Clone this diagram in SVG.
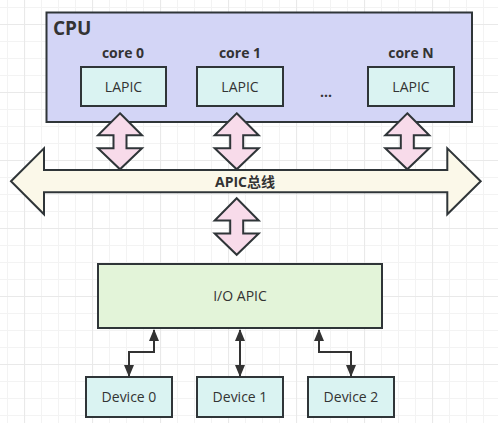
<svg xmlns="http://www.w3.org/2000/svg" width="498" height="423" viewBox="0 0 498 423">
<defs>
<pattern id="grid" patternUnits="userSpaceOnUse" x="24" y="24" width="68" height="68">
<path d="M17.5 0V68M34.5 0V68M51.5 0V68M0 17.5H68M0 34.5H68M0 51.5H68" stroke="#f3f3f3" stroke-width="1" fill="none"/>
<path d="M0.5 0V68M0 0.5H68" stroke="#e9e9e9" stroke-width="1.2" fill="none"/>
</pattern>
<marker id="ah" viewBox="0 0 12 10" refX="11" refY="5" markerWidth="12" markerHeight="10" markerUnits="userSpaceOnUse" orient="auto-start-reverse">
<path d="M0 0L12 5L0 10Z" fill="#333"/>
</marker>
<path id="dbl" d="M0 -28L22 -6H6.5V7H22L0 28L-22 7H-6.5V-6H-22Z"/>
</defs>
<style>
.box{stroke:#2f3538;stroke-width:2}
.cpu{fill:#d3d5f6}
.lapic{fill:#daf3f2}
.io{fill:#e3f4d9}
.bus{fill:#fbf8e9;stroke:#2f3538;stroke-width:2;stroke-linejoin:miter}
.pink{fill:#f8dbea;stroke:#2f3538;stroke-width:2;stroke-linejoin:miter}
.t{font-family:"Open Sans","Noto Sans CJK SC",sans-serif;fill:#333;text-anchor:middle;font-size:14px}
.b{font-weight:bold}
.conn{fill:none;stroke:#333;stroke-width:2}
</style>
<rect width="498" height="423" fill="#ffffff"/>
<rect width="498" height="423" fill="url(#grid)"/>

<g id="cpu">
<rect class="box cpu" x="46.5" y="12.5" width="425.5" height="109.5"/>
<text class="t b" x="53" y="35" style="text-anchor:start;font-size:19px">CPU</text>
</g>
<g id="core0">
<text class="t b" x="123" y="58" style="font-size:14px">core 0</text>
<rect class="box lapic" x="81" y="67" width="85" height="39"/>
<text class="t" x="123.5" y="92">LAPIC</text>
</g>
<g id="core1">
<text class="t b" x="240" y="58">core 1</text>
<rect class="box lapic" x="197" y="67" width="86" height="39"/>
<text class="t" x="240" y="92">LAPIC</text>
</g>
<g id="dots">
<text class="t b" x="326" y="97">...</text>
</g>
<g id="coreN">
<text class="t b" x="411" y="58">core N</text>
<rect class="box lapic" x="368" y="67" width="86" height="39"/>
<text class="t" x="411" y="92">LAPIC</text>
</g>

<g id="bus">
<path class="bus" d="M11 181.3L44 148.3V170H447.3V148.3L480.7 181.3L447.3 214.3V192.3H44V214.3Z"/>
<text class="t b" x="245" y="187">APIC总线</text>
</g>

<g id="links">
<use href="#dbl" class="pink" transform="translate(120,141.3)"/>
<use href="#dbl" class="pink" transform="translate(236.7,141.3)"/>
<use href="#dbl" class="pink" transform="translate(407.3,141.3)"/>
<use href="#dbl" class="pink" transform="translate(236.7,226.5) scale(1,1.01)"/>
</g>

<g id="ioapic">
<rect class="box io" x="98" y="264" width="284" height="64"/>
<text class="t" x="240" y="301">I/O APIC</text>
</g>

<g id="device0">
<rect class="box lapic" x="86" y="377" width="86" height="40"/>
<text class="t" x="129" y="402">Device 0</text>
</g>
<g id="device1">
<rect class="box lapic" x="197" y="377" width="86" height="40"/>
<text class="t" x="240" y="402">Device 1</text>
</g>
<g id="device2">
<rect class="box lapic" x="308" y="377" width="86" height="40"/>
<text class="t" x="351" y="402">Device 2</text>
</g>

<g id="connectors">
<path class="conn" d="M154 330V352H129V376" marker-start="url(#ah)" marker-end="url(#ah)"/>
<path class="conn" d="M240 330V376" marker-start="url(#ah)" marker-end="url(#ah)"/>
<path class="conn" d="M319 330V352H351V376" marker-start="url(#ah)" marker-end="url(#ah)"/>
</g>
</svg>
